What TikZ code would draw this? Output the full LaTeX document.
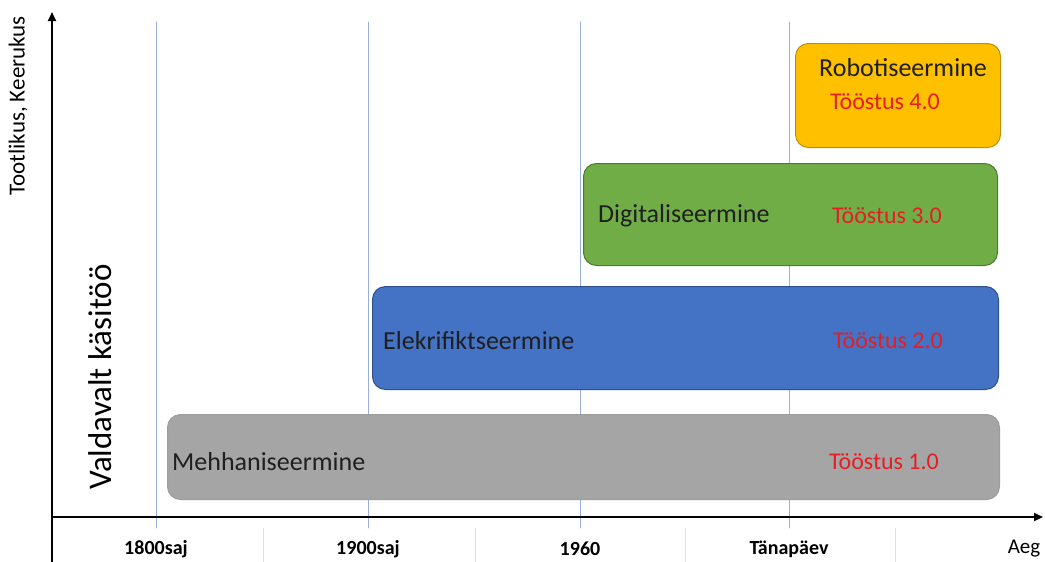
\documentclass[tikz,border=0pt]{standalone}
\usepackage{fontspec}
\setmainfont{Carlito}
\usetikzlibrary{positioning,calc,arrows.meta}

\definecolor{kollane}{HTML}{FFC000}
\definecolor{roheline}{HTML}{70AD47}
\definecolor{sinine}{HTML}{4472C4}
\definecolor{hall}{HTML}{A5A5A5}
\definecolor{punane}{RGB}{230,30,36}
\definecolor{juhtjoon}{RGB}{150,175,220}

\begin{document}
\begin{tikzpicture}[x=1pt, y=-1pt, line cap=round, line join=round]
	\useasboundingbox (0,0) rectangle (1045,562);
	\tikzset{
		etapp/.style={rectangle, rounded corners=13pt, line width=1pt, inner sep=0pt, anchor=north west},
		nimi/.style={font=\fontsize{26}{30}\selectfont, text=black!88, inner sep=0pt},
		toostus/.style={font=\fontsize{24}{28}\selectfont, text=punane, inner sep=0pt},
		aeg/.style={font=\fontsize{20}{24}\selectfont\bfseries, inner sep=0pt},
		telg/.style={line width=2.2pt, -{Triangle[length=9pt, width=8pt]}}
	}
	% ---- ajajoone punktid ----
	\coordinate (O) at (52,517);
	\coordinate (Yalg) at (52,562);
	\coordinate (Yots) at (52,12);
	\coordinate (Xots) at (1043,517);
	\foreach \nr/\x in {1/156, 2/368, 3/580, 4/789}{
		\coordinate (g\nr top) at (\x,22);
		\coordinate (g\nr alla) at (\x,528);
		\draw[juhtjoon, line width=0.8pt] (g\nr top) -- (g\nr alla);
	}
	\foreach \nr/\x in {1/263, 2/475, 3/685, 4/895}{
		\coordinate (v\nr a) at (\x,528);
		\coordinate (v\nr b) at (\x,562);
		\draw[black!12, line width=0.8pt] (v\nr a) -- (v\nr b);
	}
	
	% ---- etapid (kastid) ----
	\node[etapp, fill=hall, draw=hall!95!black, minimum width=832pt, minimum height=85pt] (mehh) at (167,414) {};
	\node[etapp, fill=sinine, draw=sinine!70!black, minimum width=626pt, minimum height=103pt] (elek) at (372,286) {};
	\node[etapp, fill=roheline, draw=roheline!70!black, minimum width=414pt, minimum height=102pt] (digi) at (583,163) {};
	\node[etapp, fill=kollane, draw=kollane!75!black, minimum width=205pt, minimum height=104pt] (robo) at (795,43) {};
	
	% ---- tekstid kastides ----
	\node[nimi, anchor=west] (mehhN) at (172,462) {Mehhaniseermine};
	\node[toostus] (mehhT) at (884,462) {Tööstus 1.0};
	\node[nimi, anchor=west] (elekN) at (383,341) {Elekrifiktseermine};
	\node[toostus] (elekT) at (888,341) {Tööstus 2.0};
	\node[nimi, anchor=west] (digiN) at (598,216) {Digitaliseermine};
	\node[toostus] (digiT) at (887,216) {Tööstus 3.0};
	\node[nimi] (roboN) at (903,68) {Robotiseermine};
	\node[toostus] (roboT) at (885,102) {Tööstus 4.0};
	
	% ---- teljed ----
	\draw[telg] (Yalg) -- (Yots);
	\draw[telg] (O) -- (Xots);
	\node[rotate=90, font=\fontsize{23}{27}\selectfont, inner sep=0pt] (ynimi) at (18,106) {Tootlikus, Keerukus};
	\node[rotate=90, font=\fontsize{33}{38}\selectfont, inner sep=0pt] (kasitoo) at (100,377) {Valdavalt käsitöö};
	
	% ---- ajatelje sildid ----
	\node[aeg] (a1800) at (156,549) {1800saj};
	\node[aeg] (a1900) at (368,549) {1900saj};
	\node[aeg] (a1960) at (580,549) {1960};
	\node[aeg] (atana) at (789,549) {Tänapäev};
	\node[font=\fontsize{21}{25}\selectfont, inner sep=0pt] (aeg) at (1024,549) {Aeg};
\end{tikzpicture}
\end{document}
